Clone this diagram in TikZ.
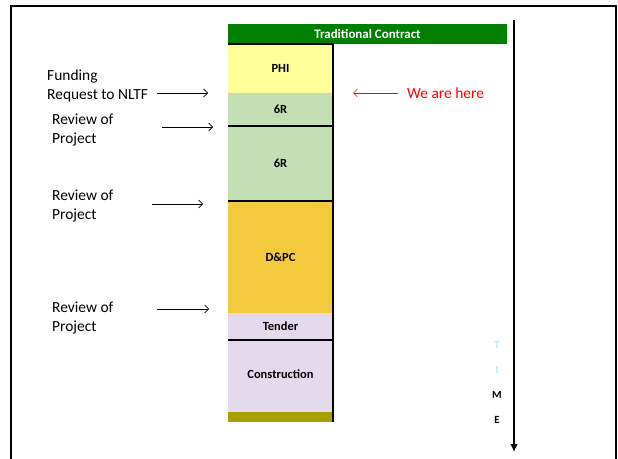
\documentclass[tikz,border=0pt]{standalone}
\usepackage{fontspec}
\setmainfont{Carlito}
\usetikzlibrary{positioning,arrows.meta}

\definecolor{headgreen}{HTML}{007F00}
\definecolor{phiyellow}{HTML}{FFFF99}
\definecolor{sixgreen}{HTML}{C4DFB4}
\definecolor{dpcgold}{HTML}{F3CA3E}
\definecolor{tendlilac}{HTML}{E4DAEC}
\definecolor{baseolive}{HTML}{A79E00}
\definecolor{hereRed}{HTML}{FF0000}

\tikzset{
  stage/.style={minimum width=105bp, inner sep=0pt, outer sep=0pt,
    font=\fontsize{12.5}{13}\selectfont\bfseries},
  sidelabel/.style={anchor=west, align=left, inner sep=0pt,
    font=\fontsize{15.5}{18.5}\selectfont},
  pointer/.style={-{Straight Barb[length=4bp, width=8bp]}, line width=0.6bp},
  timeletter/.style={font=\fontsize{11}{11}\selectfont\bfseries},
  rule/.style={line width=2bp, black}
}

\begin{document}
\begin{tikzpicture}[x=1bp, y=-1bp]
\useasboundingbox (0,0) rectangle (618,459);

% Frame round the slide
\draw[line width=2.5bp] (11,459) -- (11,6) -- (616,6) -- (616,459);

% Header bar
\node[fill=headgreen, text=white, minimum width=279bp, minimum height=20bp,
  inner sep=0pt, font=\fontsize{13}{14}\selectfont\bfseries] (head) at (367.5,34) {Traditional Contract};

% The stages, top to bottom
\node[stage, fill=phiyellow, minimum height=49bp, anchor=north] (phi) at (280.5,44) {PHI};
\node[stage, fill=sixgreen, minimum height=33bp, below=0pt of phi] (sixa) {6R};
\node[stage, fill=sixgreen, minimum height=75bp, below=0pt of sixa] (sixb) {6R};
\node[stage, fill=dpcgold, minimum height=112bp, below=0pt of sixb] (dpc) {D\&PC};
\node[stage, fill=tendlilac, minimum height=27bp, below=0pt of dpc] (tender) {Tender};
\node[stage, fill=tendlilac, minimum height=72bp, below=0pt of tender] (constr) {\raisebox{4bp}{Construction}};
\node[stage, fill=baseolive, minimum height=10bp, below=0pt of constr] (base) {};

% Black rules in the column
\draw[rule] (phi.north west) -- (phi.north east);
\draw[rule] (sixa.south west) -- (sixa.south east);
\draw[rule] (sixb.south west) -- (sixb.south east);
\draw[rule] (tender.south west) -- (tender.south east);
\draw[rule] (phi.north east) -- (base.south east);

% Time line
\coordinate (tstart) at (514,20);
\coordinate (tend) at (514,452);
\draw[line width=2bp, -{Latex[length=8bp, width=8bp]}] (tstart) -- (tend);
\node[timeletter, text=cyan!30] (tT) at (497,345) {T};
\node[timeletter, text=cyan!30] (tI) at (497,370) {I};
\node[timeletter] (tM) at (497,395) {M};
\node[timeletter] (tE) at (497,420) {E};

% Labels on the left
\node[sidelabel] (fund) at (47,86) {Funding\\Request to NLTF};
\node[sidelabel] (revA) at (52,130) {Review of\\Project};
\node[sidelabel] (revB) at (52,206) {Review of\\Project};
\node[sidelabel] (revC) at (52,318) {Review of\\Project};

\coordinate (fundS) at (157,93);   \coordinate (fundE) at (208,93);
\coordinate (revAS) at (162,127);  \coordinate (revAE) at (213,127);
\coordinate (revBS) at (152,204);  \coordinate (revBE) at (203,204);
\coordinate (revCS) at (157,309);  \coordinate (revCE) at (209,309);
\draw[pointer] (fundS) -- (fundE);
\draw[pointer] (revAS) -- (revAE);
\draw[pointer] (revBS) -- (revBE);
\draw[pointer] (revCS) -- (revCE);

% We are here
\node[sidelabel, text=hereRed] (here) at (407,93) {We are here};
\coordinate (hereS) at (398,93); \coordinate (hereE) at (353,93);
\draw[pointer, hereRed] (hereS) -- (hereE);
\end{tikzpicture}
\end{document}
